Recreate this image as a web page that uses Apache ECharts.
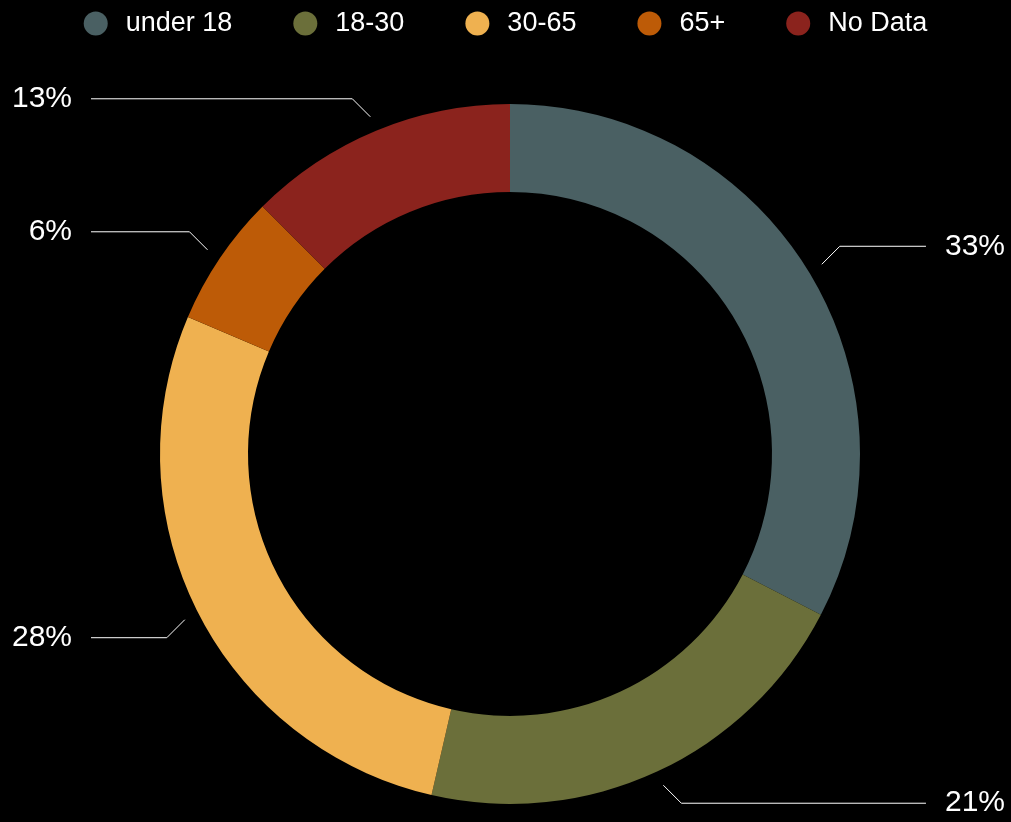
<!DOCTYPE html>
<html>
<head>
<meta charset="utf-8">
<script src="https://cdn.jsdelivr.net/npm/echarts@6/dist/echarts.min.js"></script>
<style>
html,body{margin:0;padding:0;background:#000;}
#chart{width:1011px;height:822px;}
</style>
</head>
<body>
<div id="chart"></div>
<script>
const categories = ['under 18', '18-30', '30-65', '65+', 'No Data'];
const values = [32.6, 21.0, 27.8, 6.1, 12.5];
const colors = ['#4a6063', '#6b6f3a', '#efb150', '#bd5b07', '#8b231d'];

const total = values.reduce((a, b) => a + b, 0);
const FONT = '"Liberation Sans", Arial, Helvetica, sans-serif';
const LABEL_SIZE = 30;

// measure label text so left labels end at a common right edge
const ctx = document.createElement('canvas').getContext('2d');
ctx.font = LABEL_SIZE + 'px ' + FONT;
const pctText = v => Math.round(v / total * 100) + '%';
const leftRightEdge = 72;
const rightEdgeDistance = 6;
const edgeFor = (i) => {
  // under 18 and 18-30 sit on the right side
  if (i < 2) return rightEdgeDistance;
  return leftRightEdge - ctx.measureText(pctText(values[i])).width;
};
const DIAG = 18; // 45-degree connector step

const chart = echarts.init(document.getElementById('chart'));
chart.setOption({
  backgroundColor: '#000',
  animation: false,
  color: colors,
  legend: {
    top: 5,
    left: 'center',
    icon: 'circle',
    itemWidth: 24,
    itemHeight: 24,
    itemGap: 61,
    textStyle: { color: '#fff', fontSize: 27, fontFamily: FONT, padding: [0, 0, 0, 13] },
    data: categories.map((c, i) => ({ name: c, itemStyle: { color: colors[i] } }))
  },
  series: [{
    // donut ring
    type: 'pie',
    center: [510, 454],
    radius: [262, 350],
    startAngle: 90,
    clockwise: true,
    data: categories.map((c, i) => ({ name: c, value: values[i] })),
    itemStyle: { borderWidth: 0 },
    label: { show: false },
    labelLine: { show: false },
    emphasis: { disabled: true }
  }, {
    // transparent thin ring carrying the percentage labels (leaves a gap before connectors)
    type: 'pie',
    center: [510, 454],
    radius: [364, 365],
    startAngle: 90,
    clockwise: true,
    silent: true,
    avoidLabelOverlap: true,
    data: categories.map((c, i) => ({
      name: c,
      value: values[i],
      label: { edgeDistance: edgeFor(i) }
    })),
    itemStyle: { color: 'rgba(0,0,0,0)', borderWidth: 0 },
    label: {
      show: true,
      position: 'outside',
      alignTo: 'edge',
      color: '#fff',
      fontSize: LABEL_SIZE,
      fontFamily: FONT,
      distanceToLabelLine: 19,
      formatter: p => pctText(p.value)
    },
    labelLine: {
      show: true,
      length: 24,
      length2: 20,
      lineStyle: { color: '#fff', width: 1 }
    },
    labelLayout: function (params) {
      const pts = params.labelLinePoints;
      if (!pts || pts.length < 3) return {};
      const p0 = pts[0], p1 = pts[1], p2 = pts[2];
      const sx = p1[0] >= p0[0] ? 1 : -1;
      const sy = p1[1] >= p0[1] ? 1 : -1;
      const b = [p0[0] + sx * DIAG, p0[1] + sy * DIAG];
      const r = params.labelRect;
      return {
        y: b[1] - r.height / 2,
        verticalAlign: 'top',
        labelLinePoints: [p0, b, [p2[0], b[1]]]
      };
    },
    emphasis: { disabled: true }
  }]
});
</script>
</body>
</html>
